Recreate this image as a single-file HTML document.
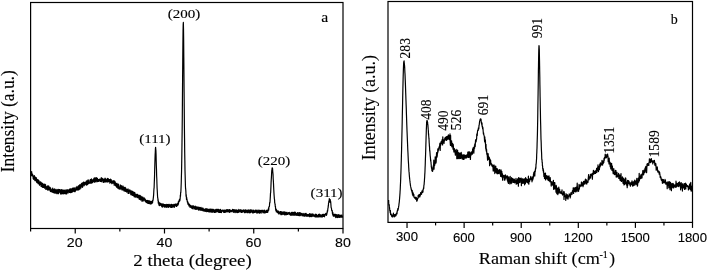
<!DOCTYPE html>
<html><head><meta charset="utf-8"><style>
html,body{margin:0;padding:0;background:#fff;width:708px;height:271px;overflow:hidden}
svg{display:block;will-change:transform}

</style></head><body>
<svg width="708" height="271" viewBox="0 0 708 271">
<rect width="708" height="271" fill="#fff"/>
<g fill="none" stroke="#000" stroke-width="1.2">
<rect x="30.6" y="2.5" width="312.4" height="226"/>
<line x1="30.60" y1="228.5" x2="30.60" y2="231.5"/>
<line x1="75.23" y1="228.5" x2="75.23" y2="233.5"/>
<line x1="119.86" y1="228.5" x2="119.86" y2="231.5"/>
<line x1="164.49" y1="228.5" x2="164.49" y2="233.5"/>
<line x1="209.11" y1="228.5" x2="209.11" y2="231.5"/>
<line x1="253.74" y1="228.5" x2="253.74" y2="233.5"/>
<line x1="298.37" y1="228.5" x2="298.37" y2="231.5"/>
<line x1="343.00" y1="228.5" x2="343.00" y2="233.5"/>
<rect x="388.0" y="1.5" width="304.5" height="220.9"/>
<line x1="407.03" y1="222.4" x2="407.03" y2="227.9"/>
<line x1="435.58" y1="222.4" x2="435.58" y2="225.4"/>
<line x1="464.12" y1="222.4" x2="464.12" y2="227.9"/>
<line x1="492.67" y1="222.4" x2="492.67" y2="225.4"/>
<line x1="521.22" y1="222.4" x2="521.22" y2="227.9"/>
<line x1="549.77" y1="222.4" x2="549.77" y2="225.4"/>
<line x1="578.31" y1="222.4" x2="578.31" y2="227.9"/>
<line x1="606.86" y1="222.4" x2="606.86" y2="225.4"/>
<line x1="635.41" y1="222.4" x2="635.41" y2="227.9"/>
<line x1="663.95" y1="222.4" x2="663.95" y2="225.4"/>
<line x1="692.50" y1="222.4" x2="692.50" y2="227.9"/>
</g>
<polyline fill="none" stroke="#000" stroke-width="1.2" stroke-linejoin="round" points="30.80,173.10 30.95,174.66 31.10,174.33 31.25,171.94 31.40,172.56 31.55,175.57 31.70,171.65 31.85,175.81 32.00,175.93 32.15,174.58 32.30,174.01 32.45,174.13 32.60,174.24 32.75,175.38 32.90,175.90 33.05,176.36 33.20,178.70 33.35,177.95 33.50,177.35 33.65,179.32 33.80,175.82 33.95,175.77 34.10,178.15 34.25,175.62 34.40,175.78 34.55,178.27 34.70,178.23 34.85,180.58 35.00,179.37 35.15,178.99 35.30,179.08 35.45,178.04 35.60,177.07 35.75,178.09 35.90,180.65 36.05,178.44 36.20,179.40 36.35,177.80 36.50,181.91 36.65,178.81 36.80,179.50 36.95,182.59 37.10,180.95 37.25,182.71 37.40,181.85 37.55,182.48 37.70,179.49 37.85,181.79 38.00,181.76 38.15,183.64 38.30,181.32 38.45,182.58 38.60,180.12 38.75,181.82 38.90,181.64 39.05,180.93 39.20,184.25 39.35,182.27 39.50,185.27 39.65,183.52 39.80,183.71 39.95,183.98 40.10,184.28 40.25,181.87 40.40,183.37 40.55,182.52 40.70,183.41 40.85,182.05 41.00,186.34 41.15,182.83 41.30,185.13 41.45,183.45 41.60,186.31 41.75,185.39 41.90,182.95 42.05,186.47 42.20,187.05 42.35,186.95 42.50,185.44 42.65,183.50 42.80,183.82 42.95,187.45 43.10,185.74 43.25,184.05 43.40,187.52 43.55,186.44 43.70,186.19 43.85,185.35 44.00,185.60 44.15,184.87 44.30,183.99 44.45,188.10 44.60,186.22 44.75,186.69 44.90,185.69 45.05,187.84 45.20,184.43 45.35,186.18 45.50,184.62 45.65,185.15 45.80,189.28 45.95,187.87 46.10,186.85 46.25,187.38 46.40,189.14 46.55,186.67 46.70,187.93 46.85,188.45 47.00,186.95 47.15,187.81 47.30,189.07 47.45,189.83 47.60,186.26 47.75,190.09 47.90,185.70 48.05,189.36 48.20,189.71 48.35,186.54 48.50,187.96 48.65,189.93 48.80,186.15 48.95,189.17 49.10,190.02 49.25,188.75 49.40,189.83 49.55,187.50 49.70,187.43 49.85,188.28 50.00,187.46 50.15,188.32 50.30,191.28 50.45,189.54 50.60,188.49 50.75,188.22 50.90,191.55 51.05,189.18 51.20,191.82 51.35,189.65 51.50,189.75 51.65,191.62 51.80,190.94 51.95,190.23 52.10,189.56 52.25,191.79 52.40,189.62 52.55,192.13 52.70,188.10 52.85,189.90 53.00,190.39 53.15,192.52 53.30,189.22 53.45,191.95 53.60,191.39 53.75,191.64 53.90,191.28 54.05,192.98 54.20,189.97 54.35,190.34 54.50,189.46 54.65,188.78 54.80,189.61 54.95,193.03 55.10,192.72 55.25,189.27 55.40,191.67 55.55,191.12 55.70,191.72 55.85,192.07 56.00,190.41 56.15,193.59 56.30,191.25 56.45,192.06 56.60,192.12 56.75,189.98 56.90,189.42 57.05,191.12 57.20,192.83 57.35,193.10 57.50,192.70 57.65,189.76 57.80,193.61 57.95,193.09 58.10,193.47 58.25,191.78 58.40,193.68 58.55,189.52 58.70,189.45 58.85,189.42 59.00,190.55 59.15,190.54 59.30,190.26 59.45,192.09 59.60,189.57 59.75,192.22 59.90,190.20 60.05,192.67 60.20,189.52 60.35,190.92 60.50,193.95 60.65,192.04 60.80,193.36 60.95,192.63 61.10,192.41 61.25,190.41 61.40,192.26 61.55,189.70 61.70,193.36 61.85,194.13 62.00,193.63 62.15,189.78 62.30,191.17 62.45,191.07 62.60,190.10 62.75,192.57 62.90,193.39 63.05,191.08 63.20,193.72 63.35,193.41 63.50,190.20 63.65,193.27 63.80,193.83 63.95,190.54 64.10,192.35 64.25,192.66 64.40,192.52 64.55,190.06 64.70,192.77 64.85,192.63 65.00,193.55 65.15,193.45 65.30,191.16 65.45,193.05 65.60,193.74 65.75,193.85 65.90,190.32 66.05,189.66 66.20,192.64 66.35,190.53 66.50,192.18 66.65,193.99 66.80,191.25 66.95,190.61 67.10,191.56 67.25,192.50 67.40,189.80 67.55,191.11 67.70,189.89 67.85,192.39 68.00,193.16 68.15,190.95 68.30,190.88 68.45,191.65 68.60,190.05 68.75,190.17 68.90,190.52 69.05,191.09 69.20,189.24 69.35,192.42 69.50,191.54 69.65,190.16 69.80,189.04 69.95,192.29 70.10,189.21 70.25,189.17 70.40,189.11 70.55,188.83 70.70,192.74 70.85,189.64 71.00,189.77 71.15,192.25 71.30,191.18 71.45,189.06 71.60,190.20 71.75,192.31 71.90,189.82 72.05,191.39 72.20,188.39 72.35,191.38 72.50,191.57 72.65,191.76 72.80,190.98 72.95,189.48 73.10,187.96 73.25,190.09 73.40,191.19 73.55,188.42 73.70,188.73 73.85,189.97 74.00,190.94 74.15,191.59 74.30,187.84 74.45,188.06 74.60,190.96 74.75,190.16 74.90,190.47 75.05,191.73 75.20,191.40 75.35,190.87 75.50,190.49 75.65,188.60 75.80,189.72 75.95,187.46 76.10,190.15 76.25,190.08 76.40,189.84 76.55,188.44 76.70,188.05 76.85,188.18 77.00,186.26 77.15,190.08 77.30,188.56 77.45,187.74 77.60,188.43 77.75,189.18 77.90,187.46 78.05,189.53 78.20,189.87 78.35,187.23 78.50,185.94 78.65,188.83 78.80,189.85 78.95,185.70 79.10,188.31 79.25,188.75 79.40,189.11 79.55,185.18 79.70,184.93 79.85,189.13 80.00,184.84 80.15,185.02 80.30,186.83 80.45,186.11 80.60,187.46 80.75,184.67 80.90,188.04 81.05,184.59 81.20,187.13 81.35,183.66 81.50,185.50 81.65,183.28 81.80,184.53 81.95,184.42 82.10,186.27 82.25,184.90 82.40,182.89 82.55,187.30 82.70,186.69 82.85,186.72 83.00,183.42 83.15,184.03 83.30,183.14 83.45,182.56 83.60,182.03 83.75,184.20 83.90,182.30 84.05,182.47 84.20,185.68 84.35,183.79 84.50,182.28 84.65,184.53 84.80,182.52 84.95,183.69 85.10,182.45 85.25,183.49 85.40,183.96 85.55,183.44 85.70,182.69 85.85,184.52 86.00,184.84 86.15,181.44 86.30,181.16 86.45,180.98 86.60,185.07 86.75,184.82 86.90,181.33 87.05,184.82 87.20,181.09 87.35,182.46 87.50,182.35 87.65,184.29 87.80,180.03 87.95,181.28 88.10,182.59 88.25,179.97 88.40,180.72 88.55,181.76 88.70,183.70 88.85,183.06 89.00,183.33 89.15,182.95 89.30,182.64 89.45,183.27 89.60,182.41 89.75,182.61 89.90,180.48 90.05,179.78 90.20,182.56 90.35,179.67 90.50,183.23 90.65,181.63 90.80,180.29 90.95,183.15 91.10,179.34 91.25,181.01 91.40,178.93 91.55,183.07 91.70,181.15 91.85,182.19 92.00,179.64 92.15,182.08 92.30,181.56 92.45,181.23 92.60,182.65 92.75,180.13 92.90,179.99 93.05,181.28 93.20,181.93 93.35,179.49 93.50,181.06 93.65,178.81 93.80,180.42 93.95,181.44 94.10,178.03 94.25,181.18 94.40,177.74 94.55,182.25 94.70,179.88 94.85,179.58 95.00,181.06 95.15,180.10 95.30,181.09 95.45,177.98 95.60,180.26 95.75,180.23 95.90,182.01 96.05,177.72 96.20,179.69 96.35,180.54 96.50,180.15 96.65,177.85 96.80,180.33 96.95,178.55 97.10,178.41 97.25,181.68 97.40,178.41 97.55,179.63 97.70,181.05 97.85,180.83 98.00,180.09 98.15,181.30 98.30,179.66 98.45,180.40 98.60,181.35 98.75,180.67 98.90,180.49 99.05,179.36 99.20,180.08 99.35,179.30 99.50,180.97 99.65,179.23 99.80,179.64 99.95,181.03 100.10,179.82 100.25,179.03 100.40,181.38 100.55,179.24 100.70,181.47 100.85,181.19 101.00,179.58 101.15,180.86 101.30,177.61 101.45,179.33 101.60,181.60 101.75,180.26 101.90,180.17 102.05,180.69 102.20,180.77 102.35,180.33 102.50,179.56 102.65,178.44 102.80,178.97 102.95,178.99 103.10,179.67 103.25,182.41 103.40,179.32 103.55,179.79 103.70,179.44 103.85,180.47 104.00,182.24 104.15,181.98 104.30,179.54 104.45,179.02 104.60,182.00 104.75,180.14 104.90,181.08 105.05,178.16 105.20,181.98 105.35,179.34 105.50,180.23 105.65,178.82 105.80,179.91 105.95,181.88 106.10,181.90 106.25,180.22 106.40,181.65 106.55,180.18 106.70,179.79 106.85,180.64 107.00,179.01 107.15,179.58 107.30,181.48 107.45,181.81 107.60,178.40 107.75,181.67 107.90,182.10 108.05,180.34 108.20,178.53 108.35,181.54 108.50,179.47 108.65,181.40 108.80,180.15 108.95,181.43 109.10,179.64 109.25,180.72 109.40,180.98 109.55,181.53 109.70,179.51 109.85,183.18 110.00,179.99 110.15,180.11 110.30,179.91 110.45,179.04 110.60,180.80 110.75,182.52 110.90,182.27 111.05,179.86 111.20,179.63 111.35,180.57 111.50,182.78 111.65,181.50 111.80,183.65 111.95,182.43 112.10,182.33 112.25,183.11 112.40,183.10 112.55,181.22 112.70,180.88 112.85,181.82 113.00,182.15 113.15,180.56 113.30,182.09 113.45,183.15 113.60,180.83 113.75,180.96 113.90,181.25 114.05,181.90 114.20,185.28 114.35,180.92 114.50,181.82 114.65,181.87 114.80,183.49 114.95,181.43 115.10,183.70 115.25,182.42 115.40,183.08 115.55,185.73 115.70,182.95 115.85,185.16 116.00,184.28 116.15,184.47 116.30,186.51 116.45,183.48 116.60,187.26 116.75,187.22 116.90,186.24 117.05,183.37 117.20,186.41 117.35,186.19 117.50,187.11 117.65,184.51 117.80,188.15 117.95,187.91 118.10,184.28 118.25,185.33 118.40,184.05 118.55,187.96 118.70,188.43 118.85,188.87 119.00,187.13 119.15,187.46 119.30,187.59 119.45,187.14 119.60,189.04 119.75,187.46 119.90,186.22 120.05,187.14 120.20,184.83 120.35,188.28 120.50,188.20 120.65,186.96 120.80,189.09 120.95,188.70 121.10,186.75 121.25,185.57 121.40,185.90 121.55,186.22 121.70,186.86 121.85,187.61 122.00,189.99 122.15,186.94 122.30,189.98 122.45,189.00 122.60,189.91 122.75,187.82 122.90,185.97 123.05,189.80 123.20,187.28 123.35,186.86 123.50,190.09 123.65,189.62 123.80,187.42 123.95,187.77 124.10,191.07 124.25,187.93 124.40,190.09 124.55,187.42 124.70,190.79 124.85,187.52 125.00,189.51 125.15,187.28 125.30,189.83 125.45,191.33 125.60,187.76 125.75,188.75 125.90,191.18 126.05,190.51 126.20,189.17 126.35,190.77 126.50,190.02 126.65,192.06 126.80,189.40 126.95,191.72 127.10,191.21 127.25,191.80 127.40,190.14 127.55,191.89 127.70,191.84 127.85,190.43 128.00,188.78 128.15,193.36 128.30,192.25 128.45,189.89 128.60,192.49 128.75,190.41 128.90,191.40 129.05,193.36 129.20,191.47 129.35,190.78 129.50,190.95 129.65,189.94 129.80,190.70 129.95,191.03 130.10,190.65 130.25,190.20 130.40,192.22 130.55,191.10 130.70,193.70 130.85,194.66 131.00,191.63 131.15,193.15 131.30,192.91 131.45,190.93 131.60,191.25 131.75,194.98 131.90,193.09 132.05,194.76 132.20,191.30 132.35,193.92 132.50,195.30 132.65,195.39 132.80,191.34 132.95,193.90 133.10,193.24 133.25,195.20 133.40,191.99 133.55,192.99 133.70,195.70 133.85,194.14 134.00,194.14 134.15,196.69 134.30,193.66 134.45,192.40 134.60,194.17 134.75,193.10 134.90,192.84 135.05,195.25 135.20,197.18 135.35,195.46 135.50,195.87 135.65,194.39 135.80,195.66 135.95,196.61 136.10,195.91 136.25,197.01 136.40,195.88 136.55,194.27 136.70,196.19 136.85,195.83 137.00,194.35 137.15,196.61 137.30,197.64 137.45,194.44 137.60,196.49 137.75,197.48 137.90,195.97 138.05,195.41 138.20,195.99 138.35,196.88 138.50,197.66 138.65,197.13 138.80,195.04 138.95,198.54 139.10,199.13 139.25,195.26 139.40,196.06 139.55,195.78 139.70,199.11 139.85,199.48 140.00,195.41 140.15,196.88 140.30,196.30 140.45,197.72 140.60,199.98 140.75,195.98 140.90,196.56 141.05,198.16 141.20,198.43 141.35,199.59 141.50,198.21 141.65,196.88 141.80,197.99 141.95,201.10 142.10,200.08 142.25,197.13 142.40,200.54 142.55,198.25 142.70,200.60 142.85,197.00 143.00,201.21 143.15,197.90 143.30,199.39 143.45,200.47 143.60,199.82 143.75,198.26 143.90,198.21 144.05,198.99 144.20,197.96 144.35,198.82 144.50,198.49 144.65,200.17 144.80,199.73 144.95,200.91 145.10,199.86 145.25,199.14 145.40,200.17 145.55,201.60 145.70,200.07 145.85,200.61 146.00,201.80 146.15,200.76 146.30,202.36 146.45,202.53 146.60,200.65 146.75,202.08 146.90,200.60 147.05,200.30 147.20,201.32 147.35,201.91 147.50,203.04 147.65,200.57 147.80,202.45 147.95,201.76 148.10,200.72 148.25,203.47 148.40,202.65 148.55,200.90 148.70,203.44 148.85,200.93 149.00,200.95 149.15,201.76 149.30,203.75 149.45,200.89 149.60,203.76 149.75,202.81 149.90,201.09 150.05,202.72 150.20,202.37 150.35,202.71 150.50,203.26 150.65,203.06 150.80,204.05 150.95,201.33 151.10,203.40 151.25,202.06 151.40,203.20 151.55,203.47 151.70,203.71 151.85,201.28 152.00,201.75 152.15,203.17 152.30,202.99 152.45,200.92 152.60,202.44 152.75,200.36 152.90,199.79 153.05,200.40 153.20,198.69 153.35,197.59 153.50,196.08 153.65,194.57 153.80,191.56 153.95,188.77 154.10,187.94 154.25,183.76 154.40,180.00 154.55,175.84 154.70,169.07 154.85,163.94 155.00,159.01 155.15,154.44 155.30,152.10 155.45,148.35 155.60,147.33 155.75,149.28 155.90,150.44 156.05,154.08 156.20,160.71 156.35,166.06 156.50,169.81 156.65,175.93 156.80,178.67 156.95,184.04 157.10,188.26 157.25,190.36 157.40,193.28 157.55,196.27 157.70,197.95 157.85,197.95 158.00,200.82 158.15,199.68 158.30,203.22 158.45,201.31 158.60,201.92 158.75,202.11 158.90,204.95 159.05,202.95 159.20,204.18 159.35,205.61 159.50,205.64 159.65,202.88 159.80,204.54 159.95,204.92 160.10,205.35 160.25,204.27 160.40,204.33 160.55,203.38 160.70,203.55 160.85,205.26 161.00,203.81 161.15,204.27 161.30,204.74 161.45,203.95 161.60,203.86 161.75,206.77 161.90,205.24 162.05,204.53 162.20,206.18 162.35,203.97 162.50,204.75 162.65,207.07 162.80,206.89 162.95,206.08 163.10,204.36 163.25,205.10 163.40,204.19 163.55,204.82 163.70,204.21 163.85,204.55 164.00,206.19 164.15,204.49 164.30,204.68 164.45,207.08 164.60,205.28 164.75,205.28 164.90,204.50 165.05,206.77 165.20,206.40 165.35,205.99 165.50,206.22 165.65,204.57 165.80,205.09 165.95,206.12 166.10,207.31 166.25,206.88 166.40,206.31 166.55,205.93 166.70,204.31 166.85,207.12 167.00,204.48 167.15,204.68 167.30,206.48 167.45,206.86 167.60,206.78 167.75,205.71 167.90,204.82 168.05,204.37 168.20,206.97 168.35,207.37 168.50,205.02 168.65,207.01 168.80,205.52 168.95,205.22 169.10,205.84 169.25,204.24 169.40,205.62 169.55,204.84 169.70,206.47 169.85,205.79 170.00,206.96 170.15,207.05 170.30,205.20 170.45,205.08 170.60,207.19 170.75,205.80 170.90,204.50 171.05,204.34 171.20,207.37 171.35,206.06 171.50,204.38 171.65,205.85 171.80,205.83 171.95,205.62 172.10,207.28 172.25,207.27 172.40,204.64 172.55,204.73 172.70,205.55 172.85,206.92 173.00,206.25 173.15,206.58 173.30,206.09 173.45,204.91 173.60,206.85 173.75,204.27 173.90,206.45 174.05,204.83 174.20,205.70 174.35,207.29 174.50,205.87 174.65,204.31 174.80,205.47 174.95,206.17 175.10,204.20 175.25,204.79 175.40,203.99 175.55,205.61 175.70,205.05 175.85,205.38 176.00,204.64 176.15,205.73 176.30,204.10 176.45,206.37 176.60,206.45 176.75,204.86 176.90,204.67 177.05,205.82 177.20,203.87 177.35,205.38 177.50,203.59 177.65,204.82 177.80,203.42 177.95,204.09 178.10,204.93 178.25,201.92 178.40,204.09 178.55,202.98 178.70,202.17 178.85,201.76 179.00,200.52 179.15,200.74 179.30,201.47 179.45,199.32 179.60,200.61 179.75,200.95 179.90,200.32 180.05,199.25 180.20,198.09 180.35,195.02 180.50,196.30 180.65,192.33 180.80,192.59 180.95,190.27 181.10,186.49 181.25,182.40 181.40,176.59 181.55,171.56 181.70,163.26 181.85,153.43 182.00,142.22 182.15,131.16 182.30,116.39 182.45,97.06 182.60,78.70 182.75,61.42 182.90,44.26 183.05,30.99 183.20,24.18 183.35,22.46 183.50,28.40 183.65,39.58 183.80,56.94 183.95,73.59 184.10,92.08 184.25,109.59 184.40,126.78 184.55,138.57 184.70,151.98 184.85,160.61 185.00,170.62 185.15,175.57 185.30,181.13 185.45,186.42 185.60,188.99 185.75,189.69 185.90,191.86 186.05,196.23 186.20,194.51 186.35,196.52 186.50,199.59 186.65,197.40 186.80,198.60 186.95,199.41 187.10,199.58 187.25,201.33 187.40,202.18 187.55,201.72 187.70,201.43 187.85,204.02 188.00,204.32 188.15,203.83 188.30,202.74 188.45,204.28 188.60,204.78 188.75,204.35 188.90,205.94 189.05,204.60 189.20,205.15 189.35,204.04 189.50,205.62 189.65,206.41 189.80,206.42 189.95,205.03 190.10,207.49 190.25,206.73 190.40,205.88 190.55,205.95 190.70,207.20 190.85,205.35 191.00,206.92 191.15,207.25 191.30,206.67 191.45,207.89 191.60,206.66 191.75,206.71 191.90,206.19 192.05,208.28 192.20,206.40 192.35,207.67 192.50,206.80 192.65,208.53 192.80,208.62 192.95,205.72 193.10,208.85 193.25,207.64 193.40,205.98 193.55,207.37 193.70,205.98 193.85,207.61 194.00,206.48 194.15,207.10 194.30,206.93 194.45,207.91 194.60,208.65 194.75,209.05 194.90,207.13 195.05,207.93 195.20,206.16 195.35,207.36 195.50,209.28 195.65,206.62 195.80,209.06 195.95,208.39 196.10,207.28 196.25,208.87 196.40,207.34 196.55,209.31 196.70,206.75 196.85,206.90 197.00,208.95 197.15,208.02 197.30,207.09 197.45,208.30 197.60,207.64 197.75,208.49 197.90,209.14 198.05,209.54 198.20,207.02 198.35,208.76 198.50,210.04 198.65,208.40 198.80,209.42 198.95,207.30 199.10,209.82 199.25,208.91 199.40,209.92 199.55,209.63 199.70,209.92 199.85,207.36 200.00,209.49 200.15,207.86 200.30,208.12 200.45,208.34 200.60,209.22 200.75,209.37 200.90,210.37 201.05,207.46 201.20,208.07 201.35,208.65 201.50,210.14 201.65,209.31 201.80,209.22 201.95,210.05 202.10,209.74 202.25,208.61 202.40,207.99 202.55,209.22 202.70,210.59 202.85,209.72 203.00,208.01 203.15,209.28 203.30,209.13 203.45,209.80 203.60,209.84 203.75,211.04 203.90,209.11 204.05,209.36 204.20,210.05 204.35,210.96 204.50,210.41 204.65,209.69 204.80,210.81 204.95,209.79 205.10,211.35 205.25,209.20 205.40,208.73 205.55,211.01 205.70,209.33 205.85,211.11 206.00,210.38 206.15,210.08 206.30,208.76 206.45,211.02 206.60,208.74 206.75,211.64 206.90,211.38 207.05,209.57 207.20,209.03 207.35,211.48 207.50,210.20 207.65,209.09 207.80,210.30 207.95,209.51 208.10,210.05 208.25,210.81 208.40,211.71 208.55,211.36 208.70,209.33 208.85,210.35 209.00,210.41 209.15,212.02 209.30,209.14 209.45,210.51 209.60,211.81 209.75,210.17 209.90,209.74 210.05,210.69 210.20,209.95 210.35,211.90 210.50,209.21 210.65,209.61 210.80,209.23 210.95,211.25 211.10,209.91 211.25,211.87 211.40,211.85 211.55,212.00 211.70,209.83 211.85,209.02 212.00,210.27 212.15,212.11 212.30,211.49 212.45,209.24 212.60,211.31 212.75,212.00 212.90,212.17 213.05,211.37 213.20,211.85 213.35,211.79 213.50,210.25 213.65,209.43 213.80,211.44 213.95,209.56 214.10,210.36 214.25,212.32 214.40,210.94 214.55,210.82 214.70,212.19 214.85,210.07 215.00,212.37 215.15,212.10 215.30,210.35 215.45,210.24 215.60,209.60 215.75,212.13 215.90,209.80 216.05,209.24 216.20,212.07 216.35,211.14 216.50,211.38 216.65,211.58 216.80,209.38 216.95,209.54 217.10,210.85 217.25,209.42 217.40,210.88 217.55,211.63 217.70,211.38 217.85,211.25 218.00,209.43 218.15,210.05 218.30,212.17 218.45,209.69 218.60,211.01 218.75,209.47 218.90,212.32 219.05,209.86 219.20,210.63 219.35,211.07 219.50,211.63 219.65,212.33 219.80,211.69 219.95,210.45 220.10,209.58 220.25,211.61 220.40,212.46 220.55,209.41 220.70,211.83 220.85,209.92 221.00,210.83 221.15,211.04 221.30,211.33 221.45,212.54 221.60,211.57 221.75,210.63 221.90,211.66 222.05,210.87 222.20,210.70 222.35,210.55 222.50,210.96 222.65,210.29 222.80,210.16 222.95,209.87 223.10,210.80 223.25,210.33 223.40,212.07 223.55,212.11 223.70,210.50 223.85,211.38 224.00,212.29 224.15,210.55 224.30,211.17 224.45,210.82 224.60,211.48 224.75,212.47 224.90,209.84 225.05,212.49 225.20,211.53 225.35,211.95 225.50,211.43 225.65,212.19 225.80,210.45 225.95,211.67 226.10,210.25 226.25,211.03 226.40,211.58 226.55,210.05 226.70,209.60 226.85,211.94 227.00,211.99 227.15,211.53 227.30,210.43 227.45,211.51 227.60,209.67 227.75,211.53 227.90,211.25 228.05,211.38 228.20,210.84 228.35,210.13 228.50,211.73 228.65,210.89 228.80,211.79 228.95,210.57 229.10,209.69 229.25,211.14 229.40,211.40 229.55,212.36 229.70,212.25 229.85,209.59 230.00,211.88 230.15,210.24 230.30,211.64 230.45,210.62 230.60,210.44 230.75,210.97 230.90,211.10 231.05,211.63 231.20,211.45 231.35,211.58 231.50,210.64 231.65,211.57 231.80,210.51 231.95,211.35 232.10,210.88 232.25,211.21 232.40,209.46 232.55,211.00 232.70,210.11 232.85,210.64 233.00,209.64 233.15,211.51 233.30,212.27 233.45,210.54 233.60,209.74 233.75,211.39 233.90,209.81 234.05,212.26 234.20,209.80 234.35,210.56 234.50,210.99 234.65,209.78 234.80,210.42 234.95,210.29 235.10,211.69 235.25,212.56 235.40,210.57 235.55,211.93 235.70,209.85 235.85,211.26 236.00,210.79 236.15,210.33 236.30,212.03 236.45,211.79 236.60,209.83 236.75,210.34 236.90,212.03 237.05,212.58 237.20,211.36 237.35,212.19 237.50,212.55 237.65,211.77 237.80,211.46 237.95,210.11 238.10,210.59 238.25,211.40 238.40,212.37 238.55,210.37 238.70,210.67 238.85,209.47 239.00,211.63 239.15,210.82 239.30,211.95 239.45,210.15 239.60,211.51 239.75,211.55 239.90,210.89 240.05,210.00 240.20,210.69 240.35,211.79 240.50,210.01 240.65,209.69 240.80,210.89 240.95,210.16 241.10,211.97 241.25,212.03 241.40,212.44 241.55,212.10 241.70,211.49 241.85,210.02 242.00,212.05 242.15,211.75 242.30,211.81 242.45,211.66 242.60,212.09 242.75,210.39 242.90,211.59 243.05,211.09 243.20,210.52 243.35,210.49 243.50,209.95 243.65,211.02 243.80,210.64 243.95,210.81 244.10,212.19 244.25,211.65 244.40,211.65 244.55,212.62 244.70,210.18 244.85,211.11 245.00,209.78 245.15,210.75 245.30,212.54 245.45,209.77 245.60,211.93 245.75,212.28 245.90,211.14 246.05,212.07 246.20,210.93 246.35,210.66 246.50,211.15 246.65,210.16 246.80,210.53 246.95,210.53 247.10,212.72 247.25,210.63 247.40,210.30 247.55,212.58 247.70,210.02 247.85,212.67 248.00,212.32 248.15,211.66 248.30,210.96 248.45,210.23 248.60,209.95 248.75,209.94 248.90,210.73 249.05,210.93 249.20,212.58 249.35,211.35 249.50,212.81 249.65,211.95 249.80,210.12 249.95,211.43 250.10,210.17 250.25,209.79 250.40,212.69 250.55,210.76 250.70,210.29 250.85,210.02 251.00,211.78 251.15,211.18 251.30,209.74 251.45,212.00 251.60,210.54 251.75,212.22 251.90,211.29 252.05,211.45 252.20,211.20 252.35,211.91 252.50,212.92 252.65,212.31 252.80,209.98 252.95,211.35 253.10,210.52 253.25,210.10 253.40,210.41 253.55,210.58 253.70,212.86 253.85,212.18 254.00,212.53 254.15,212.04 254.30,210.82 254.45,211.07 254.60,211.23 254.75,210.76 254.90,211.18 255.05,212.30 255.20,210.08 255.35,210.73 255.50,211.39 255.65,212.02 255.80,211.93 255.95,212.19 256.10,210.22 256.25,210.47 256.40,210.88 256.55,210.80 256.70,212.33 256.85,213.09 257.00,212.11 257.15,210.03 257.30,210.89 257.45,212.51 257.60,212.91 257.75,211.86 257.90,211.08 258.05,211.11 258.20,212.01 258.35,212.75 258.50,211.09 258.65,210.61 258.80,210.02 258.95,210.46 259.10,212.75 259.25,212.03 259.40,213.21 259.55,210.27 259.70,211.22 259.85,212.61 260.00,212.18 260.15,210.29 260.30,211.36 260.45,212.13 260.60,212.29 260.75,211.54 260.90,210.70 261.05,213.20 261.20,211.61 261.35,212.41 261.50,211.83 261.65,210.38 261.80,210.89 261.95,210.33 262.10,210.75 262.25,210.78 262.40,211.47 262.55,211.17 262.70,211.30 262.85,212.76 263.00,210.21 263.15,210.47 263.30,212.72 263.45,211.85 263.60,211.54 263.75,210.98 263.90,211.86 264.05,210.83 264.20,212.86 264.35,212.74 264.50,211.12 264.65,210.16 264.80,212.91 264.95,211.01 265.10,212.14 265.25,212.76 265.40,212.55 265.55,212.73 265.70,211.51 265.85,212.61 266.00,211.36 266.15,210.70 266.30,211.35 266.45,210.84 266.60,212.18 266.75,212.33 266.90,210.06 267.05,210.07 267.20,210.70 267.35,210.87 267.50,212.35 267.65,212.19 267.80,212.13 267.95,211.22 268.10,210.86 268.25,209.34 268.40,209.40 268.55,207.89 268.70,210.16 268.85,207.91 269.00,206.71 269.15,206.80 269.30,206.02 269.45,206.36 269.60,202.96 269.75,202.40 269.90,203.06 270.05,201.26 270.20,198.66 270.35,196.36 270.50,193.02 270.65,192.66 270.80,189.69 270.95,186.18 271.10,182.27 271.25,179.66 271.40,177.46 271.55,174.73 271.70,171.56 271.85,170.71 272.00,169.37 272.15,167.93 272.30,167.93 272.45,168.10 272.60,169.19 272.75,171.47 272.90,173.06 273.05,174.44 273.20,178.95 273.35,180.79 273.50,183.44 273.65,187.06 273.80,189.93 273.95,192.87 274.10,195.22 274.25,197.06 274.40,199.33 274.55,199.42 274.70,202.85 274.85,202.92 275.00,204.24 275.15,204.93 275.30,206.78 275.45,206.40 275.60,209.14 275.75,210.01 275.90,210.60 276.05,208.94 276.20,210.93 276.35,211.85 276.50,209.53 276.65,210.25 276.80,210.67 276.95,211.44 277.10,210.65 277.25,211.95 277.40,211.43 277.55,212.53 277.70,212.22 277.85,212.80 278.00,211.47 278.15,213.01 278.30,213.16 278.45,213.18 278.60,211.15 278.75,214.01 278.90,212.88 279.05,211.95 279.20,212.51 279.35,212.82 279.50,212.86 279.65,212.03 279.80,212.12 279.95,212.47 280.10,213.83 280.25,212.76 280.40,211.52 280.55,212.87 280.70,212.09 280.85,211.51 281.00,214.62 281.15,212.45 281.30,213.25 281.45,212.70 281.60,211.75 281.75,214.48 281.90,214.60 282.05,212.22 282.20,212.98 282.35,212.86 282.50,212.21 282.65,213.81 282.80,214.21 282.95,214.15 283.10,213.89 283.25,211.80 283.40,212.49 283.55,213.41 283.70,214.03 283.85,213.02 284.00,213.24 284.15,214.50 284.30,211.89 284.45,212.69 284.60,212.76 284.75,215.02 284.90,212.58 285.05,212.01 285.20,213.20 285.35,213.96 285.50,212.38 285.65,214.58 285.80,212.53 285.95,214.16 286.10,212.43 286.25,214.74 286.40,212.57 286.55,214.27 286.70,214.62 286.85,212.76 287.00,212.25 287.15,213.83 287.30,213.56 287.45,213.50 287.60,214.47 287.75,213.46 287.90,213.57 288.05,213.55 288.20,213.45 288.35,213.30 288.50,212.52 288.65,212.95 288.80,212.86 288.95,212.81 289.10,214.53 289.25,212.39 289.40,212.69 289.55,213.72 289.70,213.04 289.85,212.81 290.00,213.24 290.15,213.66 290.30,214.22 290.45,215.17 290.60,214.80 290.75,213.45 290.90,213.52 291.05,213.41 291.20,212.85 291.35,215.13 291.50,212.31 291.65,212.75 291.80,214.22 291.95,213.99 292.10,213.00 292.25,215.11 292.40,213.43 292.55,214.03 292.70,212.42 292.85,214.98 293.00,212.47 293.15,213.40 293.30,214.98 293.45,215.17 293.60,215.05 293.75,214.81 293.90,212.91 294.05,212.27 294.20,213.62 294.35,212.38 294.50,215.26 294.65,212.21 294.80,213.23 294.95,212.85 295.10,212.25 295.25,213.81 295.40,212.46 295.55,215.10 295.70,214.43 295.85,213.42 296.00,214.94 296.15,214.80 296.30,213.30 296.45,214.98 296.60,215.25 296.75,214.27 296.90,213.42 297.05,215.19 297.20,215.34 297.35,213.44 297.50,212.62 297.65,215.13 297.80,214.49 297.95,213.12 298.10,214.20 298.25,213.39 298.40,215.35 298.55,213.52 298.70,213.07 298.85,212.59 299.00,213.56 299.15,215.65 299.30,213.19 299.45,213.98 299.60,215.64 299.75,212.56 299.90,213.50 300.05,215.20 300.20,212.89 300.35,215.57 300.50,215.29 300.65,213.09 300.80,214.54 300.95,214.44 301.10,214.90 301.25,213.68 301.40,213.94 301.55,213.50 301.70,213.68 301.85,213.33 302.00,215.67 302.15,215.64 302.30,213.97 302.45,215.05 302.60,214.42 302.75,213.76 302.90,214.00 303.05,215.99 303.20,214.01 303.35,214.79 303.50,215.98 303.65,213.92 303.80,215.57 303.95,213.37 304.10,215.37 304.25,215.62 304.40,215.73 304.55,216.19 304.70,215.36 304.85,216.23 305.00,214.01 305.15,214.81 305.30,213.84 305.45,213.44 305.60,214.59 305.75,215.50 305.90,215.71 306.05,213.29 306.20,216.26 306.35,214.05 306.50,214.21 306.65,215.96 306.80,216.17 306.95,215.68 307.10,214.40 307.25,214.83 307.40,216.04 307.55,214.52 307.70,215.97 307.85,215.91 308.00,214.92 308.15,216.30 308.30,214.68 308.45,215.86 308.60,215.52 308.75,214.54 308.90,215.19 309.05,215.44 309.20,215.23 309.35,213.88 309.50,216.71 309.65,216.64 309.80,213.68 309.95,216.59 310.10,215.28 310.25,213.99 310.40,216.23 310.55,215.00 310.70,215.91 310.85,216.28 311.00,215.37 311.15,213.81 311.30,216.30 311.45,215.90 311.60,216.60 311.75,214.56 311.90,216.22 312.05,216.51 312.20,214.87 312.35,215.05 312.50,214.82 312.65,213.78 312.80,214.51 312.95,214.84 313.10,214.14 313.25,216.25 313.40,215.18 313.55,215.64 313.70,214.74 313.85,214.99 314.00,216.26 314.15,215.36 314.30,215.78 314.45,215.23 314.60,215.67 314.75,216.77 314.90,214.76 315.05,215.57 315.20,216.12 315.35,214.21 315.50,217.02 315.65,215.54 315.80,214.74 315.95,216.40 316.10,216.58 316.25,216.00 316.40,216.92 316.55,214.28 316.70,215.69 316.85,216.39 317.00,216.95 317.15,216.07 317.30,215.96 317.45,215.28 317.60,215.87 317.75,215.82 317.90,216.95 318.05,216.71 318.20,216.42 318.35,217.03 318.50,214.29 318.65,216.54 318.80,215.57 318.95,216.49 319.10,215.04 319.25,215.59 319.40,216.74 319.55,214.21 319.70,215.04 319.85,215.67 320.00,216.83 320.15,214.97 320.30,216.74 320.45,214.89 320.60,215.08 320.75,215.88 320.90,216.20 321.05,216.93 321.20,216.92 321.35,214.91 321.50,216.49 321.65,216.13 321.80,215.33 321.95,216.57 322.10,216.96 322.25,215.61 322.40,217.00 322.55,214.47 322.70,214.59 322.85,216.49 323.00,215.01 323.15,215.90 323.30,215.60 323.45,214.46 323.60,216.39 323.75,216.33 323.90,214.41 324.05,214.75 324.20,216.46 324.35,216.78 324.50,216.62 324.65,215.40 324.80,214.93 324.95,215.13 325.10,214.21 325.25,215.17 325.40,214.24 325.55,213.92 325.70,214.51 325.85,213.36 326.00,214.50 326.15,215.03 326.30,214.67 326.45,215.44 326.60,214.84 326.75,213.67 326.90,214.09 327.05,212.16 327.20,212.75 327.35,210.50 327.50,210.59 327.65,211.30 327.80,209.27 327.95,208.11 328.10,208.08 328.25,205.61 328.40,206.28 328.55,202.69 328.70,202.43 328.85,201.30 329.00,200.70 329.15,202.16 329.30,198.60 329.45,199.04 329.60,199.68 329.75,200.06 329.90,200.47 330.05,199.60 330.20,199.65 330.35,202.38 330.50,200.88 330.65,201.61 330.80,203.11 330.95,204.94 331.10,207.38 331.25,207.67 331.40,208.09 331.55,208.85 331.70,210.24 331.85,210.80 332.00,210.58 332.15,210.44 332.30,211.36 332.45,213.73 332.60,213.71 332.75,214.62 332.90,212.55 333.05,215.58 333.20,214.16 333.35,216.12 333.50,215.23 333.65,215.23 333.80,216.23 333.95,215.72 334.10,215.97 334.25,214.40 334.40,215.90 334.55,215.17 334.70,214.32 334.85,214.55 335.00,215.71 335.15,215.05 335.30,216.69 335.45,214.67 335.60,214.35 335.75,217.53 335.90,215.36 336.05,216.02 336.20,215.08 336.35,215.10 336.50,215.74 336.65,217.00 336.80,214.62 336.95,217.19 337.10,217.70 337.25,216.34 337.40,215.71 337.55,215.33 337.70,215.18 337.85,215.64 338.00,217.34 338.15,214.64 338.30,217.16 338.45,216.79 338.60,214.73 338.75,214.90 338.90,217.04 339.05,216.86 339.20,215.72 339.35,217.48 339.50,215.41 339.65,216.11 339.80,215.12 339.95,216.83 340.10,215.05 340.25,215.36 340.40,217.24 340.55,216.40 340.70,216.93 340.85,217.16 341.00,216.76 341.15,215.46 341.30,217.08 341.45,215.22 341.60,215.72 341.75,216.30 341.90,215.24 342.05,215.22 342.20,216.97 342.35,217.27 342.50,216.09"/>
<polyline fill="none" stroke="#000" stroke-width="1.2" stroke-linejoin="round" points="388.60,199.94 388.80,204.85 389.00,205.20 389.20,204.57 389.40,206.92 389.60,208.11 389.80,210.62 390.00,211.01 390.20,212.69 390.40,210.48 390.60,214.77 390.80,213.42 391.00,214.75 391.20,214.35 391.40,214.57 391.60,215.91 391.80,216.61 392.00,215.46 392.20,215.92 392.40,217.00 392.60,215.42 392.80,214.81 393.00,216.97 393.20,215.82 393.40,213.01 393.60,215.57 393.80,215.87 394.00,214.97 394.20,214.53 394.40,216.13 394.60,216.90 394.80,215.51 395.00,214.77 395.20,215.83 395.40,215.99 395.60,214.66 395.80,215.35 396.00,215.65 396.20,213.99 396.40,213.01 396.60,213.94 396.80,213.44 397.00,213.95 397.20,210.85 397.40,211.01 397.60,210.22 397.80,208.58 398.00,209.88 398.00,210.27 398.10,209.12 398.20,209.32 398.30,208.94 398.40,208.15 398.50,207.56 398.60,207.17 398.70,205.88 398.80,205.82 398.90,205.13 399.00,203.68 399.10,203.52 399.20,202.48 399.30,201.87 399.40,200.51 399.50,199.56 399.60,198.51 399.70,196.90 399.80,196.01 399.90,194.35 400.00,193.12 400.10,191.00 400.20,190.02 400.30,187.63 400.40,185.33 400.50,183.38 400.60,181.22 400.70,178.88 400.80,175.21 400.90,173.12 401.00,170.01 401.10,166.69 401.20,163.09 401.30,160.28 401.40,155.86 401.50,152.58 401.60,149.21 401.70,143.80 401.80,139.90 401.90,135.17 402.00,131.08 402.10,126.80 402.20,122.21 402.30,116.25 402.40,111.74 402.50,107.46 402.60,102.65 402.70,97.50 402.80,92.44 402.90,88.28 403.00,83.72 403.10,79.53 403.20,75.54 403.30,72.39 403.40,69.28 403.50,66.54 403.60,64.38 403.70,62.47 403.80,61.69 403.90,61.76 404.00,61.33 404.10,60.77 404.20,62.52 404.30,63.02 404.40,64.46 404.50,65.05 404.60,66.31 404.70,67.64 404.80,70.29 404.90,72.65 405.00,73.79 405.10,76.14 405.20,79.12 405.30,81.06 405.40,83.87 405.50,86.58 405.60,89.55 405.70,92.68 405.80,95.27 405.90,98.48 406.00,100.91 406.10,104.24 406.20,106.48 406.30,109.22 406.40,113.29 406.50,115.80 406.60,119.06 406.70,121.92 406.80,124.98 406.90,127.61 407.00,130.40 407.10,132.74 407.20,135.19 407.30,137.74 407.40,140.31 407.50,142.55 407.60,144.92 407.70,147.52 407.80,149.85 407.90,151.72 408.00,153.43 408.10,156.00 408.20,158.03 408.30,160.16 408.40,161.81 408.50,163.17 408.60,164.81 408.70,167.23 408.80,168.38 408.90,170.16 409.00,171.64 409.10,172.09 409.20,173.73 409.30,174.96 409.40,176.32 409.50,177.24 409.60,178.19 409.70,179.17 409.80,179.61 409.90,180.91 410.00,181.58 410.10,182.65 410.20,183.23 410.30,184.28 410.40,185.02 410.50,185.51 410.60,186.13 410.70,186.64 410.80,187.02 410.90,187.58 411.00,188.01 411.10,188.74 411.20,189.07 411.30,189.66 411.40,189.48 411.50,190.51 411.60,190.37 411.70,190.72 411.80,191.20 411.90,191.39 412.00,192.14 412.10,191.55 412.20,190.25 412.30,191.80 412.40,194.20 412.50,193.21 412.60,192.18 412.70,193.57 412.80,192.21 412.90,195.76 413.20,193.02 413.40,195.86 413.60,195.86 413.80,194.34 414.00,196.55 414.20,197.60 414.40,197.31 414.60,197.59 414.80,198.21 415.00,197.60 415.20,198.28 415.40,197.63 415.60,199.17 415.80,197.11 416.00,198.99 416.20,197.94 416.40,197.73 416.60,199.96 416.80,201.28 417.00,200.76 417.20,199.27 417.40,200.25 417.60,198.26 417.80,198.56 418.00,198.33 418.20,195.30 418.40,197.34 418.60,195.77 418.80,195.14 419.00,194.81 419.20,194.54 419.40,194.89 419.60,196.44 419.80,197.06 420.00,195.14 420.20,196.02 420.40,194.15 420.60,192.51 420.80,194.32 421.00,194.35 421.20,193.20 421.40,193.64 421.60,194.16 421.80,191.81 422.00,190.82 422.20,191.67 422.40,191.04 422.60,190.64 422.80,192.45 423.00,191.62 423.00,189.48 423.10,189.93 423.20,189.70 423.30,189.21 423.40,188.96 423.50,187.79 423.60,187.85 423.70,188.53 423.80,186.71 423.90,185.31 424.00,185.15 424.10,184.61 424.20,183.20 424.30,181.65 424.40,181.50 424.50,178.77 424.60,178.16 424.70,176.25 424.80,173.87 424.90,173.10 425.00,170.52 425.10,167.43 425.20,165.81 425.30,162.61 425.40,159.03 425.50,156.63 425.60,153.96 425.70,150.89 425.80,147.31 425.90,143.88 426.00,140.68 426.10,136.88 426.20,134.45 426.30,130.88 426.40,128.16 426.50,126.10 426.60,122.47 426.70,121.63 426.80,121.76 426.90,120.94 427.00,120.29 427.10,120.84 427.20,120.66 427.30,121.39 427.40,121.39 427.50,122.45 427.60,122.22 427.70,124.47 427.80,124.44 427.90,124.89 428.00,126.62 428.10,127.68 428.20,129.13 428.30,129.72 428.40,131.78 428.50,134.50 428.60,133.62 428.70,135.97 428.80,136.71 428.90,138.52 429.00,138.92 429.10,140.65 429.20,142.86 429.30,143.99 429.40,146.20 429.50,146.38 429.60,148.14 429.70,150.95 429.80,150.24 429.90,151.41 430.00,153.05 430.10,154.22 430.20,155.80 430.30,156.53 430.40,157.15 430.50,158.64 430.60,160.83 430.70,161.07 430.80,159.93 430.90,162.09 431.00,162.09 431.10,164.34 431.20,164.26 431.30,167.04 431.40,166.66 431.50,168.10 431.60,167.05 431.70,167.32 431.80,168.17 431.90,170.84 432.20,169.83 432.40,169.46 432.60,171.48 432.80,170.23 433.00,169.10 433.20,166.42 433.40,165.77 433.60,164.91 433.80,160.02 434.00,169.13 434.20,165.66 434.40,163.56 434.60,165.50 434.80,164.58 435.00,163.00 435.20,156.74 435.40,160.64 435.60,162.64 435.80,163.11 436.00,162.93 436.20,161.41 436.40,155.50 436.60,152.65 436.80,157.36 437.00,155.43 437.20,156.44 437.40,153.40 437.60,153.24 437.80,148.97 438.00,152.07 438.20,149.53 438.40,150.35 438.60,149.77 438.80,147.83 439.00,147.93 439.20,146.53 439.40,147.41 439.60,146.29 439.80,143.69 440.00,143.22 440.20,150.50 440.40,143.63 440.60,145.59 440.80,144.19 441.00,142.09 441.20,141.54 441.40,143.11 441.60,143.20 441.80,143.73 442.00,139.77 442.20,140.92 442.40,141.73 442.60,144.94 442.80,136.83 443.00,142.25 443.20,140.10 443.40,141.86 443.60,139.82 443.80,141.33 444.00,143.52 444.20,140.89 444.40,140.83 444.60,140.49 444.80,138.03 445.00,140.40 445.20,138.69 445.40,137.28 445.60,138.62 445.80,138.01 446.00,139.72 446.20,137.87 446.40,136.64 446.60,140.38 446.80,139.25 447.00,139.66 447.20,138.24 447.40,136.78 447.60,136.21 447.80,136.60 448.00,139.21 448.20,137.74 448.40,134.78 448.60,137.92 448.80,135.43 449.00,139.20 449.20,136.39 449.40,136.55 449.60,139.64 449.80,139.60 450.00,133.73 450.20,142.03 450.40,145.28 450.60,135.47 450.80,145.47 451.00,140.90 451.20,141.74 451.40,142.85 451.60,140.83 451.80,146.85 452.00,145.78 452.20,143.84 452.40,145.32 452.60,143.36 452.80,146.18 453.00,149.19 453.20,144.32 453.40,146.42 453.60,148.87 453.80,151.06 454.00,152.05 454.20,148.81 454.40,148.61 454.60,151.35 454.80,150.07 455.00,150.52 455.20,153.63 455.40,155.18 455.60,152.65 455.80,151.66 456.00,153.87 456.20,149.25 456.40,153.28 456.60,151.48 456.80,158.67 457.00,155.63 457.20,154.78 457.40,154.00 457.60,150.00 457.80,156.67 458.00,158.66 458.20,154.06 458.40,156.99 458.60,157.17 458.80,152.72 459.00,157.78 459.20,158.69 459.40,156.51 459.60,156.00 459.80,157.77 460.00,153.17 460.20,156.49 460.40,158.47 460.60,153.92 460.80,158.44 461.00,155.66 461.20,152.38 461.40,156.38 461.60,154.69 461.80,157.32 462.00,154.38 462.20,158.87 462.40,155.33 462.60,157.56 462.80,155.70 463.00,156.28 463.20,159.35 463.40,157.43 463.60,156.24 463.80,154.56 464.00,159.41 464.20,158.58 464.40,156.48 464.60,157.64 464.80,155.11 465.00,155.16 465.20,155.54 465.40,157.91 465.60,157.73 465.80,155.48 466.00,158.19 466.20,157.96 466.40,156.38 466.60,157.74 466.80,154.74 467.00,154.76 467.20,155.68 467.40,154.42 467.60,156.09 467.80,152.01 468.00,157.39 468.20,153.01 468.40,154.29 468.60,151.92 468.80,155.94 469.00,157.34 469.20,156.99 469.40,156.57 469.60,151.83 469.80,153.41 470.00,154.07 470.20,153.12 470.40,159.42 470.60,155.55 470.80,154.59 471.00,155.39 471.20,152.26 471.40,152.05 471.60,151.78 471.80,154.19 472.00,153.51 472.20,153.61 472.40,154.23 472.60,148.97 472.80,150.18 473.00,151.17 473.20,147.70 473.40,148.81 473.60,151.33 473.80,153.11 474.00,150.22 474.20,147.50 474.40,145.88 474.60,148.19 474.80,143.82 475.00,145.27 475.20,146.51 475.40,142.40 475.60,139.92 475.80,141.54 476.00,141.92 476.20,140.83 476.40,139.29 476.60,139.18 476.80,133.95 477.00,134.49 477.20,135.60 477.40,132.48 477.60,130.71 477.80,130.05 478.00,129.68 478.20,130.33 478.40,127.86 478.60,128.21 478.80,129.01 479.00,125.39 479.20,125.14 479.40,123.28 479.60,121.23 479.80,120.73 480.00,119.66 480.20,120.36 480.40,118.73 480.60,120.47 480.80,120.25 481.00,118.99 481.20,121.72 481.40,123.19 481.60,122.04 481.80,124.95 482.00,123.15 482.20,126.67 482.40,126.36 482.60,128.80 482.80,127.15 483.00,128.48 483.20,131.56 483.40,133.85 483.60,132.81 483.80,134.80 484.00,135.30 484.20,135.58 484.40,138.48 484.60,141.57 484.80,136.85 485.00,141.50 485.20,142.82 485.40,139.73 485.60,147.01 485.80,148.92 486.00,144.39 486.20,151.04 486.40,148.94 486.60,149.73 486.80,154.23 487.00,152.78 487.20,154.63 487.40,157.27 487.60,160.15 487.80,157.46 488.00,153.49 488.20,154.20 488.40,159.33 488.60,156.35 488.80,158.66 489.00,157.04 489.20,159.00 489.40,157.58 489.60,165.62 489.80,158.88 490.00,160.84 490.20,161.18 490.40,164.01 490.60,160.00 490.80,162.81 491.00,162.96 491.20,164.65 491.40,164.97 491.60,163.78 491.80,165.36 492.00,164.66 492.20,166.43 492.40,165.79 492.60,165.17 492.80,166.56 493.00,167.54 493.20,171.08 493.40,165.86 493.60,168.34 493.80,170.59 494.00,164.85 494.20,165.68 494.40,166.88 494.60,168.96 494.80,173.54 495.00,170.28 495.20,171.89 495.40,169.66 495.60,166.05 495.80,166.48 496.00,172.31 496.20,171.06 496.40,168.68 496.60,172.93 496.80,168.55 497.00,173.22 497.20,173.89 497.40,168.94 497.60,169.77 497.80,173.20 498.00,170.01 498.20,173.44 498.40,170.05 498.60,173.56 498.80,172.46 499.00,171.67 499.20,170.99 499.40,173.03 499.60,169.53 499.80,171.93 500.00,172.33 500.20,174.29 500.40,171.14 500.60,176.32 500.80,173.02 501.00,169.83 501.20,176.20 501.40,176.82 501.60,173.82 501.80,171.26 502.00,174.46 502.20,173.41 502.40,174.20 502.60,180.18 502.80,175.70 503.00,175.42 503.20,175.91 503.40,175.36 503.60,177.03 503.80,177.23 504.00,175.24 504.20,176.18 504.40,180.23 504.60,176.98 504.80,176.08 505.00,180.01 505.20,176.68 505.40,174.94 505.60,178.09 505.80,175.56 506.00,176.38 506.20,177.92 506.40,177.30 506.60,176.36 506.80,176.86 507.00,176.93 507.20,180.07 507.40,175.77 507.60,177.39 507.80,181.97 508.00,177.70 508.20,181.31 508.40,183.39 508.60,178.79 508.80,176.77 509.00,180.08 509.20,180.59 509.40,181.21 509.60,179.81 509.80,183.90 510.00,182.29 510.20,176.45 510.40,182.57 510.60,180.54 510.80,179.39 511.00,179.90 511.20,183.73 511.40,182.30 511.60,177.66 511.80,180.92 512.00,180.62 512.20,180.62 512.40,179.24 512.60,178.56 512.80,182.55 513.00,179.53 513.20,180.53 513.40,179.14 513.60,179.97 513.80,182.50 514.00,181.90 514.20,178.98 514.40,179.69 514.60,179.72 514.80,182.97 515.00,181.78 515.20,181.76 515.40,180.82 515.60,180.96 515.80,182.15 516.00,178.29 516.20,184.18 516.40,180.11 516.60,180.50 516.80,183.75 517.00,181.86 517.20,181.64 517.40,180.51 517.60,178.85 517.80,182.14 518.00,183.55 518.20,179.99 518.40,186.16 518.60,177.69 518.80,180.28 519.00,182.39 519.20,181.52 519.40,182.69 519.60,180.25 519.80,178.00 520.00,178.33 520.20,179.44 520.40,179.65 520.60,179.04 520.80,182.51 521.00,180.32 521.20,178.05 521.40,185.64 521.60,179.98 521.80,179.25 522.00,183.48 522.20,183.34 522.40,179.38 522.60,178.82 522.80,179.61 523.00,183.21 523.20,180.21 523.40,179.88 523.60,181.19 523.80,183.27 524.00,178.84 524.20,180.53 524.40,178.82 524.60,184.86 524.80,184.25 525.00,182.78 525.20,180.93 525.40,183.40 525.60,177.59 525.80,181.64 526.00,178.90 526.20,178.92 526.40,178.77 526.60,179.98 526.80,182.14 527.00,182.34 527.20,181.58 527.40,179.51 527.60,182.24 527.80,180.86 528.00,183.03 528.20,179.41 528.40,176.18 528.60,179.94 528.80,184.24 529.00,181.19 529.20,179.85 529.40,181.45 529.60,181.42 529.80,180.24 530.00,178.34 530.20,179.10 530.40,179.07 530.60,177.42 530.80,176.41 531.00,178.38 531.20,179.65 531.40,178.97 531.60,178.57 531.80,178.44 532.00,181.81 532.20,177.68 532.40,178.82 532.60,180.16 532.80,176.69 533.00,176.80 533.00,178.13 533.10,178.88 533.20,177.05 533.30,176.48 533.40,176.04 533.50,173.80 533.60,177.08 533.70,174.88 533.80,172.58 533.90,174.65 534.00,172.22 534.10,173.02 534.20,174.20 534.30,172.68 534.40,175.06 534.50,171.45 534.60,173.39 534.70,173.43 534.80,176.01 534.90,173.14 535.00,172.18 535.10,171.28 535.20,170.66 535.30,171.53 535.40,168.96 535.50,169.69 535.60,168.39 535.70,168.05 535.80,166.77 535.90,168.40 536.00,164.00 536.10,164.55 536.20,163.45 536.30,162.51 536.40,160.97 536.50,159.78 536.60,158.14 536.70,154.05 536.80,153.18 536.90,149.74 537.00,148.23 537.10,144.10 537.20,140.93 537.30,137.88 537.40,134.81 537.50,130.09 537.60,124.51 537.70,119.82 537.80,112.44 537.90,105.48 538.00,99.61 538.10,92.97 538.20,86.61 538.30,79.77 538.40,70.72 538.50,66.14 538.60,59.06 538.70,53.39 538.80,49.27 538.90,47.40 539.00,45.54 539.10,45.96 539.20,48.12 539.30,49.86 539.40,55.40 539.50,60.00 539.60,65.72 539.70,71.67 539.80,77.05 539.90,84.68 540.00,89.54 540.10,96.81 540.20,101.14 540.30,108.06 540.40,112.07 540.50,118.25 540.60,122.48 540.70,125.74 540.80,130.59 540.90,135.25 541.00,139.17 541.10,140.65 541.20,142.98 541.30,146.67 541.40,149.66 541.50,151.49 541.60,153.32 541.70,156.68 541.80,159.41 541.90,159.77 542.00,159.47 542.10,161.73 542.20,162.59 542.30,162.31 542.40,165.72 542.50,165.74 542.60,165.89 542.70,168.78 542.80,168.73 542.90,169.48 543.00,170.49 543.10,170.47 543.20,168.53 543.30,169.61 543.40,172.29 543.50,170.43 543.60,171.86 543.70,172.71 543.80,174.49 543.90,176.46 544.00,174.42 544.10,173.19 544.20,175.06 544.30,174.77 544.40,173.80 544.50,178.59 544.60,175.47 544.70,173.78 544.80,177.12 544.90,174.94 545.00,176.49 545.10,173.28 545.20,175.86 545.30,174.54 545.40,173.12 545.50,173.31 545.60,179.95 545.70,176.42 545.80,177.58 545.90,178.70 546.20,177.10 546.40,178.34 546.60,175.56 546.80,178.26 547.00,177.49 547.20,179.16 547.40,179.16 547.60,176.56 547.80,176.02 548.00,177.57 548.20,180.58 548.40,180.28 548.60,180.46 548.80,176.79 549.00,175.92 549.20,179.43 549.40,180.09 549.60,179.86 549.80,181.59 550.00,180.95 550.20,177.63 550.40,180.20 550.60,182.03 550.80,182.13 551.00,182.12 551.20,186.09 551.40,182.29 551.60,183.15 551.80,181.62 552.00,182.90 552.20,184.58 552.40,184.91 552.60,184.03 552.80,185.18 553.00,184.91 553.20,182.08 553.40,180.23 553.60,189.31 553.80,187.20 554.00,186.03 554.20,183.58 554.40,182.51 554.60,188.98 554.80,182.57 555.00,186.73 555.20,188.86 555.40,188.14 555.60,189.11 555.80,187.90 556.00,192.16 556.20,185.25 556.40,186.57 556.60,189.39 556.80,193.73 557.00,189.26 557.20,191.22 557.40,188.89 557.60,188.03 557.80,194.58 558.00,192.79 558.20,192.91 558.40,189.92 558.60,188.93 558.80,187.20 559.00,190.74 559.20,193.11 559.40,192.22 559.60,189.26 559.80,192.01 560.00,191.88 560.20,192.14 560.40,192.10 560.60,191.95 560.80,193.36 561.00,192.75 561.20,193.04 561.40,191.71 561.60,193.58 561.80,192.68 562.00,189.81 562.20,194.09 562.40,193.01 562.60,195.04 562.80,193.41 563.00,193.63 563.20,194.23 563.40,193.98 563.60,192.67 563.80,191.33 564.00,199.42 564.20,191.87 564.40,193.95 564.60,195.65 564.80,195.92 565.00,195.72 565.20,196.15 565.40,197.04 565.60,195.60 565.80,200.35 566.00,193.71 566.20,195.79 566.40,194.94 566.60,194.73 566.80,196.15 567.00,198.10 567.20,194.70 567.40,194.76 567.60,197.11 567.80,196.87 568.00,199.17 568.20,197.72 568.40,196.46 568.60,195.57 568.80,196.43 569.00,195.76 569.20,193.77 569.40,195.86 569.60,195.43 569.80,195.17 570.00,194.68 570.20,197.86 570.40,196.05 570.60,196.21 570.80,193.49 571.00,192.57 571.20,193.04 571.40,194.07 571.60,192.86 571.80,192.84 572.00,194.42 572.20,193.10 572.40,190.80 572.60,191.45 572.80,190.85 573.00,191.98 573.20,187.76 573.40,190.75 573.60,193.35 573.80,191.05 574.00,187.85 574.20,189.61 574.40,190.62 574.60,191.02 574.80,191.41 575.00,189.43 575.20,187.61 575.40,191.83 575.60,189.85 575.80,189.86 576.00,189.53 576.20,187.21 576.40,188.19 576.60,188.95 576.80,191.68 577.00,188.41 577.20,183.06 577.40,187.51 577.60,188.30 577.80,189.65 578.00,188.57 578.20,191.26 578.40,189.40 578.60,191.29 578.80,188.34 579.00,184.47 579.20,189.25 579.40,188.32 579.60,185.43 579.80,187.08 580.00,186.68 580.20,185.14 580.40,185.56 580.60,185.22 580.80,185.88 581.00,184.71 581.20,186.14 581.40,182.08 581.60,184.58 581.80,182.21 582.00,184.01 582.20,185.49 582.40,184.57 582.60,184.23 582.80,184.39 583.00,186.66 583.20,182.24 583.40,185.29 583.60,181.31 583.80,182.84 584.00,183.70 584.20,181.92 584.40,183.45 584.60,184.12 584.80,180.87 585.00,182.48 585.20,181.83 585.40,179.14 585.60,181.75 585.80,179.31 586.00,183.81 586.20,180.06 586.40,183.98 586.60,180.20 586.80,183.95 587.00,181.51 587.20,181.16 587.40,181.51 587.60,181.45 587.80,182.04 588.00,182.35 588.20,178.81 588.40,177.15 588.60,174.67 588.80,178.11 589.00,179.74 589.20,178.92 589.40,178.29 589.60,177.34 589.80,176.68 590.00,177.05 590.20,177.93 590.40,174.29 590.60,178.08 590.80,174.39 591.00,176.03 591.20,175.33 591.40,175.56 591.60,174.29 591.80,173.93 592.00,175.21 592.20,173.66 592.40,179.14 592.60,173.67 592.80,173.77 593.00,173.74 593.20,172.71 593.40,170.30 593.60,173.62 593.80,174.32 594.00,171.22 594.20,173.42 594.40,171.27 594.60,172.93 594.80,173.34 595.00,173.32 595.20,173.06 595.40,170.89 595.60,173.35 595.80,170.84 596.00,171.95 596.20,172.30 596.40,170.32 596.60,168.39 596.80,172.37 597.00,168.13 597.20,168.23 597.40,167.59 597.60,170.61 597.80,168.62 598.00,164.78 598.20,169.57 598.40,171.55 598.60,170.80 598.80,166.48 599.00,167.29 599.20,168.58 599.40,169.61 599.60,166.35 599.80,164.14 600.00,166.99 600.20,166.45 600.40,162.85 600.60,164.18 600.80,165.39 601.00,164.19 601.20,164.77 601.40,164.93 601.60,164.19 601.80,162.76 602.00,160.36 602.20,164.42 602.40,164.43 602.60,165.10 602.80,161.39 603.00,161.09 603.20,163.32 603.40,163.02 603.60,160.87 603.80,162.42 604.00,158.44 604.20,160.44 604.40,157.72 604.60,158.55 604.80,158.26 605.00,157.33 605.20,154.21 605.40,154.64 605.60,157.74 605.80,156.79 606.00,155.97 606.20,157.85 606.40,157.40 606.60,157.53 606.80,154.63 607.00,156.01 607.20,155.47 607.40,154.74 607.60,153.99 607.80,156.77 608.00,155.93 608.20,161.64 608.40,158.23 608.60,158.88 608.80,159.29 609.00,163.87 609.20,158.18 609.40,161.86 609.60,161.54 609.80,163.31 610.00,164.10 610.20,166.60 610.40,162.84 610.60,165.65 610.80,168.86 611.00,165.66 611.20,166.64 611.40,165.84 611.60,163.29 611.80,167.75 612.00,170.52 612.20,168.10 612.40,166.13 612.60,170.51 612.80,170.12 613.00,172.03 613.20,173.74 613.40,170.54 613.60,172.00 613.80,168.57 614.00,173.83 614.20,172.54 614.40,174.36 614.60,174.59 614.80,172.56 615.00,173.04 615.20,172.05 615.40,170.26 615.60,173.78 615.80,174.49 616.00,170.72 616.20,177.05 616.40,175.03 616.60,175.83 616.80,172.61 617.00,172.45 617.20,176.96 617.40,176.86 617.60,175.82 617.80,175.47 618.00,175.89 618.20,176.30 618.40,175.85 618.60,173.46 618.80,178.39 619.00,174.69 619.20,176.24 619.40,177.05 619.60,178.19 619.80,175.17 620.00,180.14 620.20,179.37 620.40,179.74 620.60,180.75 620.80,177.41 621.00,173.60 621.20,179.66 621.40,181.49 621.60,181.40 621.80,178.67 622.00,179.58 622.20,180.38 622.40,176.97 622.60,179.05 622.80,179.25 623.00,183.16 623.20,179.50 623.40,183.41 623.60,180.89 623.80,178.14 624.00,184.89 624.20,179.58 624.40,182.41 624.60,184.38 624.80,180.68 625.00,179.62 625.20,183.59 625.40,182.04 625.60,177.87 625.80,178.47 626.00,181.59 626.20,183.99 626.40,181.96 626.60,183.66 626.80,185.45 627.00,184.89 627.20,187.71 627.40,185.00 627.60,180.25 627.80,185.14 628.00,183.69 628.20,182.99 628.40,181.42 628.60,180.63 628.80,181.52 629.00,183.44 629.20,181.55 629.40,182.22 629.60,182.63 629.80,184.88 630.00,183.31 630.20,183.63 630.40,186.19 630.60,183.44 630.80,185.06 631.00,182.29 631.20,184.70 631.40,184.38 631.60,184.51 631.80,183.45 632.00,180.76 632.20,183.78 632.40,183.50 632.60,186.06 632.80,185.83 633.00,182.21 633.20,185.27 633.40,183.32 633.60,185.61 633.80,183.12 634.00,181.32 634.20,185.41 634.40,184.31 634.60,181.30 634.80,180.00 635.00,182.13 635.20,180.85 635.40,181.43 635.60,183.53 635.80,184.78 636.00,181.47 636.20,184.22 636.40,183.66 636.60,180.74 636.80,178.45 637.00,184.00 637.20,181.94 637.40,186.15 637.60,185.37 637.80,181.62 638.00,182.94 638.20,178.06 638.40,179.93 638.60,178.89 638.80,182.07 639.00,179.81 639.20,173.39 639.40,180.65 639.60,176.51 639.80,179.10 640.00,176.69 640.20,178.08 640.40,178.03 640.60,177.00 640.80,174.77 641.00,178.49 641.20,176.51 641.40,175.53 641.60,176.49 641.80,174.10 642.00,177.95 642.20,174.85 642.40,174.82 642.60,174.52 642.80,170.58 643.00,171.39 643.20,173.48 643.40,173.43 643.60,174.83 643.80,173.02 644.00,170.11 644.20,172.56 644.40,172.77 644.60,172.76 644.80,171.30 645.00,168.33 645.20,172.05 645.40,167.28 645.60,170.36 645.80,166.34 646.00,169.94 646.20,166.87 646.40,169.56 646.60,172.61 646.80,168.65 647.00,164.13 647.20,163.97 647.40,163.57 647.60,165.67 647.80,164.68 648.00,163.96 648.20,163.89 648.40,164.09 648.60,163.96 648.80,165.49 649.00,162.28 649.20,162.49 649.40,158.76 649.60,159.45 649.80,160.32 650.00,159.30 650.20,161.52 650.40,162.76 650.60,160.11 650.80,159.10 651.00,159.77 651.20,160.79 651.40,158.69 651.60,161.98 651.80,161.04 652.00,161.15 652.20,161.92 652.40,160.76 652.60,161.31 652.80,163.93 653.00,161.01 653.20,162.60 653.40,161.51 653.60,160.83 653.80,161.04 654.00,160.63 654.20,162.27 654.40,160.42 654.60,161.99 654.80,165.03 655.00,162.97 655.20,165.42 655.40,164.28 655.60,165.70 655.80,163.65 656.00,165.70 656.20,170.22 656.40,167.72 656.60,168.62 656.80,168.32 657.00,169.61 657.20,166.81 657.40,167.97 657.60,170.76 657.80,172.02 658.00,170.50 658.20,171.09 658.40,171.63 658.60,172.44 658.80,171.26 659.00,171.41 659.20,174.25 659.40,171.99 659.60,172.15 659.80,173.77 660.00,174.77 660.20,177.48 660.40,176.80 660.60,177.88 660.80,176.73 661.00,177.58 661.20,180.07 661.40,180.12 661.60,178.97 661.80,180.61 662.00,180.80 662.20,180.68 662.40,183.32 662.60,179.39 662.80,182.35 663.00,181.86 663.20,180.91 663.40,179.48 663.60,182.78 663.80,182.19 664.00,181.97 664.20,182.05 664.40,182.15 664.60,180.74 664.80,182.87 665.00,179.43 665.20,182.56 665.40,180.17 665.60,182.22 665.80,184.14 666.00,182.58 666.20,182.31 666.40,184.11 666.60,182.89 666.80,182.76 667.00,182.89 667.20,188.72 667.40,184.91 667.60,184.70 667.80,181.97 668.00,185.15 668.20,182.00 668.40,185.11 668.60,182.50 668.80,187.81 669.00,181.72 669.20,186.74 669.40,186.11 669.60,181.80 669.80,184.48 670.00,189.76 670.20,186.94 670.40,182.24 670.60,184.22 670.80,183.14 671.00,183.42 671.20,184.09 671.40,190.74 671.60,185.42 671.80,184.80 672.00,183.93 672.20,186.30 672.40,186.33 672.60,183.57 672.80,187.61 673.00,183.25 673.20,184.59 673.40,185.80 673.60,187.91 673.80,184.38 674.00,185.43 674.20,187.12 674.40,185.93 674.60,186.75 674.80,186.56 675.00,185.20 675.20,185.80 675.40,186.25 675.60,184.61 675.80,187.34 676.00,181.22 676.20,183.00 676.40,186.99 676.60,185.23 676.80,183.38 677.00,185.10 677.20,186.29 677.40,183.47 677.60,185.71 677.80,184.19 678.00,184.20 678.20,184.27 678.40,186.28 678.60,182.50 678.80,183.80 679.00,186.59 679.20,182.41 679.40,181.83 679.60,185.52 679.80,184.61 680.00,184.41 680.20,184.95 680.40,183.12 680.60,189.78 680.80,183.23 681.00,184.23 681.20,182.62 681.40,184.40 681.60,187.78 681.80,185.29 682.00,186.35 682.20,184.59 682.40,191.04 682.60,185.85 682.80,183.52 683.00,187.03 683.20,185.17 683.40,187.82 683.60,186.17 683.80,186.45 684.00,186.30 684.20,184.59 684.40,183.64 684.60,189.45 684.80,186.06 685.00,186.82 685.20,185.59 685.40,182.98 685.60,184.28 685.80,188.86 686.00,185.19 686.20,185.90 686.40,184.09 686.60,185.72 686.80,185.26 687.00,186.29 687.20,186.33 687.40,185.65 687.60,185.78 687.80,186.76 688.00,187.37 688.20,186.61 688.40,189.85 688.60,187.27 688.80,187.40 689.00,185.89 689.20,188.80 689.40,185.36 689.60,184.41 689.80,185.56 690.00,188.33 690.20,183.34 690.40,189.62 690.60,187.50 690.80,182.42 691.00,187.48 691.20,191.10 691.40,186.82 691.60,186.26 691.80,189.56 692.00,191.10"/>
<g fill="#000" stroke="#000" stroke-width="0.12">
<text transform="translate(74.70,247.00) scale(1.0936,1.0000)" font-family="Liberation Sans" font-size="12.97" text-anchor="middle">20</text>
<text transform="translate(164.40,247.00) scale(1.0936,1.0000)" font-family="Liberation Sans" font-size="12.97" text-anchor="middle">40</text>
<text transform="translate(253.45,247.00) scale(1.0936,1.0000)" font-family="Liberation Sans" font-size="12.97" text-anchor="middle">60</text>
<text transform="translate(343.00,247.00) scale(1.0936,1.0000)" font-family="Liberation Sans" font-size="12.97" text-anchor="middle">80</text>
<text transform="translate(133.25,265.87) scale(1.1230,1.0000)" font-family="Liberation Serif" font-size="16.82">2 theta (degree)</text>
<text transform="translate(14.15,172.20) rotate(-90) scale(1.0000,1.1073)" font-family="Liberation Serif" font-size="17.41">Intensity (a.u.)</text>
<text transform="translate(167.70,18.35) scale(1.1216,1.0000)" font-family="Liberation Serif" font-size="13.40">(<tspan font-size="13.40">200</tspan>)</text>
<text transform="translate(139.20,143.20) scale(1.1216,1.0000)" font-family="Liberation Serif" font-size="13.40">(<tspan font-size="13.40">111</tspan>)</text>
<text transform="translate(257.72,164.75) scale(1.1216,1.0000)" font-family="Liberation Serif" font-size="13.40">(<tspan font-size="13.40">220</tspan>)</text>
<text transform="translate(310.62,197.10) scale(1.1216,1.0000)" font-family="Liberation Serif" font-size="13.40">(<tspan font-size="13.40">311</tspan>)</text>
<text transform="translate(321.15,22.40) scale(1.1200,1.0000)" font-family="Liberation Serif" font-size="14.00">a</text>
<text transform="translate(407.00,241.42) scale(0.9617,1.0000)" font-family="Liberation Sans" font-size="13.65" text-anchor="middle">300</text>
<text transform="translate(463.85,241.67) scale(0.9617,1.0000)" font-family="Liberation Sans" font-size="13.65" text-anchor="middle">600</text>
<text transform="translate(520.95,241.68) scale(0.9617,1.0000)" font-family="Liberation Sans" font-size="13.65" text-anchor="middle">900</text>
<text transform="translate(578.30,241.68) scale(0.9617,1.0000)" font-family="Liberation Sans" font-size="13.65" text-anchor="middle">1200</text>
<text transform="translate(635.27,241.93) scale(0.9617,1.0000)" font-family="Liberation Sans" font-size="13.65" text-anchor="middle">1500</text>
<text transform="translate(692.37,241.93) scale(0.9617,1.0000)" font-family="Liberation Sans" font-size="13.65" text-anchor="middle">1800</text>
<text transform="translate(478.83,264.45) scale(1.0380,1.0000)" font-family="Liberation Serif" font-size="17.51">Raman shift (cm</text>
<text transform="translate(599.38,258.00)" font-family="Liberation Serif" font-size="10.00">-1</text>
<text transform="translate(609.13,264.25)" font-family="Liberation Serif" font-size="17.40">)</text>
<text transform="translate(374.62,160.35) rotate(-90) scale(1.0000,1.0228)" font-family="Liberation Serif" font-size="18.01">Intensity (a.u.)</text>
<text transform="translate(409.55,58.43) rotate(-90) scale(1.0000,1.0272)" font-family="Liberation Serif" font-size="13.57">283</text>
<text transform="translate(431.10,119.80) rotate(-90) scale(1.0000,1.0272)" font-family="Liberation Serif" font-size="13.57">408</text>
<text transform="translate(448.40,130.70) rotate(-90) scale(1.0000,1.0272)" font-family="Liberation Serif" font-size="13.57">490</text>
<text transform="translate(460.80,130.15) rotate(-90) scale(1.0000,1.0272)" font-family="Liberation Serif" font-size="13.57">526</text>
<text transform="translate(488.40,115.18) rotate(-90) scale(1.0000,1.0272)" font-family="Liberation Serif" font-size="13.57">691</text>
<text transform="translate(542.35,38.30) rotate(-90) scale(1.0000,1.0272)" font-family="Liberation Serif" font-size="13.57">991</text>
<text transform="translate(613.82,153.80) rotate(-90) scale(1.0000,1.0272)" font-family="Liberation Serif" font-size="13.57">1351</text>
<text transform="translate(658.75,157.43) rotate(-90) scale(1.0000,1.0272)" font-family="Liberation Serif" font-size="13.57">1589</text>
<text transform="translate(670.80,23.60)" font-family="Liberation Serif" font-size="14.00">b</text>
</g>
</svg>
</body></html>
